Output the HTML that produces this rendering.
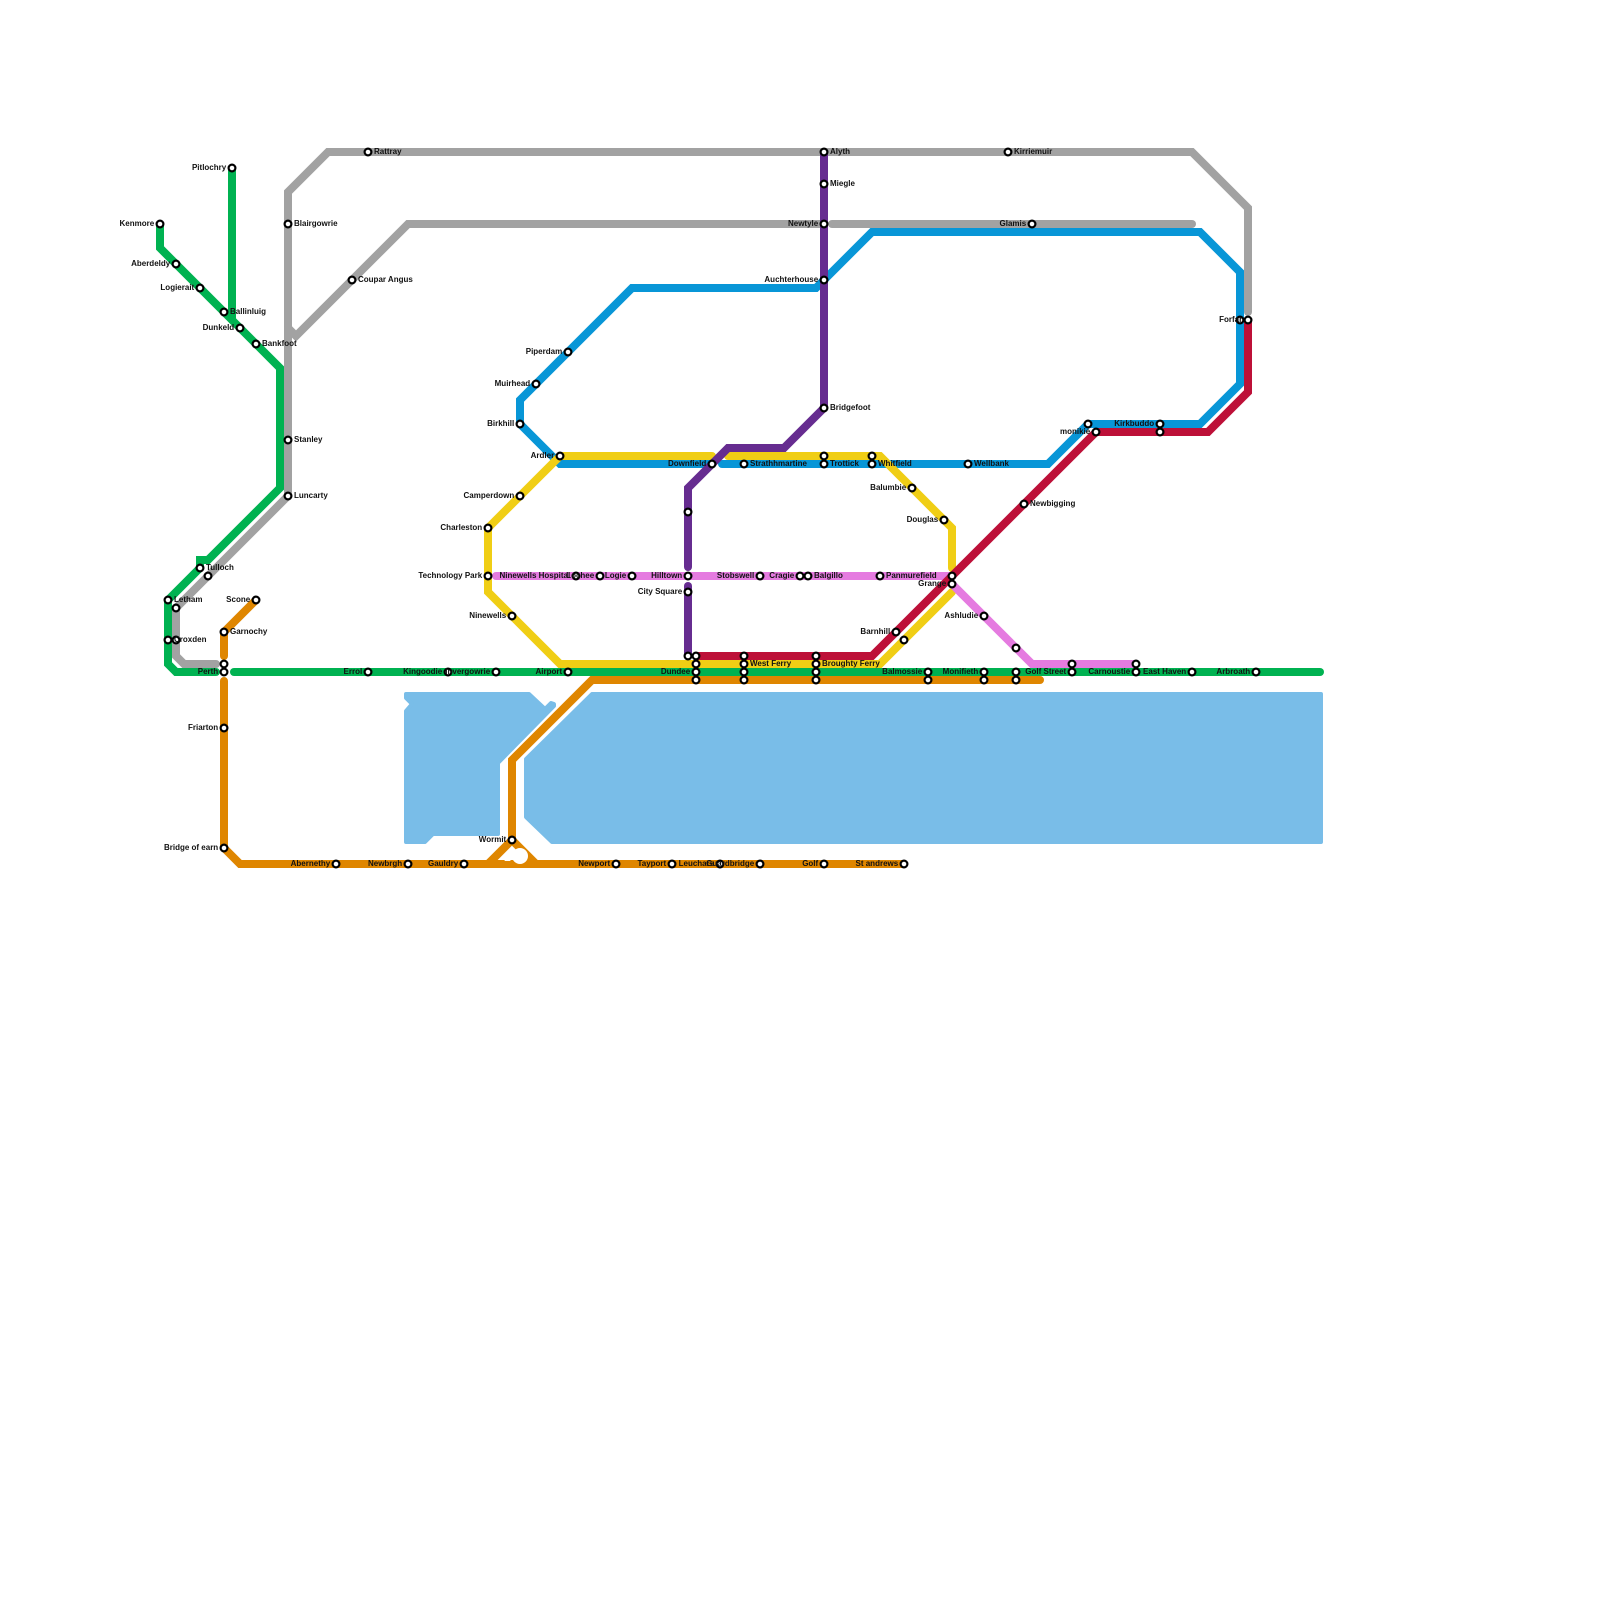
<!DOCTYPE html>
<html><head><meta charset="utf-8"><title>Tayside Metro</title>
<style>html,body{margin:0;padding:0;background:#fff}svg{display:block}
text{font-family:"Liberation Sans",sans-serif;font-size:8px;font-weight:bold;fill:#111}
.e{text-anchor:end}.l{fill:none;stroke-width:8;stroke-linecap:round;stroke-linejoin:miter;stroke-miterlimit:10}</style></head>
<body>
<svg xmlns="http://www.w3.org/2000/svg" width="1600" height="1600" viewBox="0 0 1600 1600">
<rect width="1600" height="1600" fill="#fff"/>
<g fill="#79bde8" stroke="#79bde8" stroke-width="4" stroke-linejoin="round">
<path d="M406 694H529L545 709L551 703L554 704L554 706L498 763V834H433L425 842H406V711L412 704L406 698Z"/>
<path d="M592 694H1321V842H552L526 817V759Z"/>
</g>
<g class="l">
<path stroke="#a2a2a2" d="M288 328V192L328 152H1192L1248 208V312"/>
<path stroke="#a2a2a2" d="M288 328V496L176 608V656L184 664H216"/>
<path stroke="#a2a2a2" d="M288 328L296 336L408 224H820"/>
<path stroke="#a2a2a2" d="M832 224H1192"/>
<path stroke="#00b251" d="M160 224V248L280 368V488L208 560H200V568L168 600V664L176 672H216"/>
<path stroke="#00b251" d="M232 168V320"/>
<path stroke="#00b251" d="M234 672H1320"/>
<path stroke="#df8600" d="M256 600L224 632V656"/>
<path stroke="#df8600" d="M224 681V848L240 864H904"/>
<path stroke="#df8600" d="M1040 680H592L512 760V840L488 864"/>
<path stroke="#df8600" d="M512 840L536 864"/>
<path stroke="#0896d7" d="M712 464H560L520 424V400L632 288H816L872 232H1200L1240 272V384L1200 424H1088L1048 464H722"/>
<path stroke="#f0ce15" d="M712 456H560L488 528V592L560 664H880L952 592"/>
<path stroke="#f0ce15" d="M728 456H880L952 528V568"/>
<path stroke="#e57be0" d="M496 576H950"/>
<path stroke="#e57be0" d="M952 584L1032 664H1136"/>
<path stroke="#662c90" d="M824 152V408L784 448H728L688 488V567"/>
<path stroke="#662c90" d="M688 586V656"/>
<path stroke="#bd1038" d="M696 656H872L1096 432H1208L1248 392V320"/>
</g>
<path fill="#fff" d="M502 857L512 848L518 852L510 861H505Z"/>
<circle cx="520" cy="856" r="8" fill="#fff"/>
<g fill="#fff" stroke="#000" stroke-width="2.2">
<circle cx="232" cy="168" r="3.4"/><circle cx="160" cy="224" r="3.4"/><circle cx="176" cy="264" r="3.4"/><circle cx="200" cy="288" r="3.4"/><circle cx="224" cy="312" r="3.4"/><circle cx="240" cy="328" r="3.4"/><circle cx="256" cy="344" r="3.4"/>
<circle cx="368" cy="152" r="3.4"/><circle cx="288" cy="224" r="3.4"/><circle cx="352" cy="280" r="3.4"/><circle cx="288" cy="440" r="3.4"/><circle cx="288" cy="496" r="3.4"/>
<circle cx="200" cy="568" r="3.4"/><circle cx="208" cy="576" r="3.4"/><circle cx="168" cy="600" r="3.4"/><circle cx="176" cy="608" r="3.4"/><circle cx="168" cy="640" r="3.4"/><circle cx="176" cy="640" r="3.4"/>
<circle cx="256" cy="600" r="3.4"/><circle cx="224" cy="632" r="3.4"/><circle cx="224" cy="664" r="3.4"/><circle cx="224" cy="672" r="3.4"/><circle cx="224" cy="728" r="3.4"/><circle cx="224" cy="848" r="3.4"/>
<circle cx="336" cy="864" r="3.4"/><circle cx="408" cy="864" r="3.4"/><circle cx="464" cy="864" r="3.4"/><circle cx="512" cy="840" r="3.4"/><circle cx="616" cy="864" r="3.4"/><circle cx="672" cy="864" r="3.4"/><circle cx="720" cy="864" r="3.4"/><circle cx="760" cy="864" r="3.4"/><circle cx="824" cy="864" r="3.4"/><circle cx="904" cy="864" r="3.4"/>
<circle cx="368" cy="672" r="3.4"/><circle cx="448" cy="672" r="3.4"/><circle cx="496" cy="672" r="3.4"/><circle cx="568" cy="672" r="3.4"/>
<circle cx="488" cy="528" r="3.4"/><circle cx="488" cy="576" r="3.4"/><circle cx="512" cy="616" r="3.4"/><circle cx="520" cy="496" r="3.4"/><circle cx="560" cy="456" r="3.4"/><circle cx="520" cy="424" r="3.4"/><circle cx="536" cy="384" r="3.4"/><circle cx="568" cy="352" r="3.4"/>
<circle cx="576" cy="576" r="3.4"/><circle cx="600" cy="576" r="3.4"/><circle cx="632" cy="576" r="3.4"/><circle cx="688" cy="512" r="3.4"/><circle cx="688" cy="576" r="3.4"/><circle cx="688" cy="592" r="3.4"/><circle cx="688" cy="656" r="3.4"/>
<circle cx="760" cy="576" r="3.4"/><circle cx="800" cy="576" r="3.4"/><circle cx="808" cy="576" r="3.4"/><circle cx="880" cy="576" r="3.4"/>
<circle cx="696" cy="656" r="3.4"/><circle cx="696" cy="664" r="3.4"/><circle cx="696" cy="672" r="3.4"/><circle cx="696" cy="680" r="3.4"/>
<circle cx="744" cy="656" r="3.4"/><circle cx="744" cy="664" r="3.4"/><circle cx="744" cy="672" r="3.4"/><circle cx="744" cy="680" r="3.4"/>
<circle cx="816" cy="656" r="3.4"/><circle cx="816" cy="664" r="3.4"/><circle cx="816" cy="672" r="3.4"/><circle cx="816" cy="680" r="3.4"/>
<circle cx="928" cy="672" r="3.4"/><circle cx="928" cy="680" r="3.4"/><circle cx="984" cy="672" r="3.4"/><circle cx="984" cy="680" r="3.4"/><circle cx="1016" cy="672" r="3.4"/><circle cx="1016" cy="680" r="3.4"/>
<circle cx="1072" cy="664" r="3.4"/><circle cx="1072" cy="672" r="3.4"/><circle cx="1136" cy="664" r="3.4"/><circle cx="1136" cy="672" r="3.4"/><circle cx="1192" cy="672" r="3.4"/><circle cx="1256" cy="672" r="3.4"/>
<circle cx="824" cy="152" r="3.4"/><circle cx="824" cy="184" r="3.4"/><circle cx="824" cy="224" r="3.4"/><circle cx="824" cy="280" r="3.4"/><circle cx="824" cy="408" r="3.4"/>
<circle cx="712" cy="464" r="3.4"/><circle cx="744" cy="464" r="3.4"/><circle cx="824" cy="456" r="3.4"/><circle cx="824" cy="464" r="3.4"/><circle cx="872" cy="456" r="3.4"/><circle cx="872" cy="464" r="3.4"/><circle cx="968" cy="464" r="3.4"/>
<circle cx="912" cy="488" r="3.4"/><circle cx="944" cy="520" r="3.4"/><circle cx="952" cy="576" r="3.4"/><circle cx="952" cy="584" r="3.4"/><circle cx="896" cy="632" r="3.4"/><circle cx="904" cy="640" r="3.4"/><circle cx="984" cy="616" r="3.4"/><circle cx="1016" cy="648" r="3.4"/>
<circle cx="1008" cy="152" r="3.4"/><circle cx="1032" cy="224" r="3.4"/><circle cx="1024" cy="504" r="3.4"/><circle cx="1088" cy="424" r="3.4"/><circle cx="1096" cy="432" r="3.4"/><circle cx="1160" cy="424" r="3.4"/><circle cx="1160" cy="432" r="3.4"/><circle cx="1240" cy="320" r="3.4"/><circle cx="1248" cy="320" r="3.4"/>
</g>
<g class="e" transform="translate(0.7,-0.4)">
<text x="225.5" y="170.5">Pitlochry</text><text x="153.5" y="226.5">Kenmore</text><text x="169.5" y="266.5">Aberdeldy</text><text x="193.5" y="290.5">Logierait</text><text x="233.5" y="330.5">Dunkeld</text>
<text x="249.5" y="602.5">Scone</text><text x="217.5" y="674.5">Perth</text><text x="217.5" y="730.5">Friarton</text><text x="217.5" y="850.5">Bridge of earn</text>
<text x="329.5" y="866.5">Abernethy</text><text x="401.5" y="866.5">Newbrgh</text><text x="457.5" y="866.5">Gauldry</text><text x="505.5" y="842.5">Wormit</text><text x="609.5" y="866.5">Newport</text><text x="665.5" y="866.5">Tayport</text><text x="713.5" y="866.5">Leuchars</text><text x="753.5" y="866.5">Guardbridge</text><text x="817.5" y="866.5">Golf</text><text x="897.5" y="866.5">St andrews</text>
<text x="361.5" y="674.5">Errol</text><text x="441.5" y="674.5">Kingoodie</text><text x="489.5" y="674.5">Invergowrie</text><text x="561.5" y="674.5">Airport</text>
<text x="481.5" y="530.5">Charleston</text><text x="481.5" y="578.5">Technology Park</text><text x="505.5" y="618.5">Ninewells</text><text x="513.5" y="498.5">Camperdown</text><text x="553.5" y="458.5">Ardler</text><text x="513.5" y="426.5">Birkhill</text><text x="529.5" y="386.5">Muirhead</text><text x="561.5" y="354.5">Piperdam</text>
<text x="569.5" y="578.5">Ninewells Hospital</text><text x="593.5" y="578.5">Lochee</text><text x="625.5" y="578.5">Logie</text><text x="681.5" y="578.5">Hilltown</text><text x="681.5" y="594.5">City Square</text><text x="753.5" y="578.5">Stobswell</text><text x="793.5" y="578.5">Cragie</text>
<text x="689.5" y="674.5">Dundee</text><text x="705.5" y="466.5">Downfield</text><text x="817.5" y="226.5">Newtyle</text><text x="817.5" y="282.5">Auchterhouse</text>
<text x="905.5" y="490.5">Balumbie</text><text x="937.5" y="522.5">Douglas</text><text x="889.5" y="634.5">Barnhill</text><text x="945.5" y="586.5">Grange</text><text x="977.5" y="618.5">Ashludie</text>
<text x="921.5" y="674.5">Balmossie</text><text x="977.5" y="674.5">Monifieth</text><text x="1065.5" y="674.5">Golf Street</text><text x="1129.5" y="674.5">Carnoustie</text><text x="1185.5" y="674.5">East Haven</text><text x="1249.5" y="674.5">Arbroath</text>
<text x="1025.5" y="226.5">Glamis</text><text x="1089.5" y="434.5">monikie</text><text x="1153.5" y="426.5">Kirkbuddo</text><text x="1241.5" y="322.5">Forfar</text>
</g>
<g transform="translate(-0.5,-0.4)">
<text x="230.5" y="314.5">Ballinluig</text><text x="262.5" y="346.5">Bankfoot</text><text x="374.5" y="154.5">Rattray</text><text x="294.5" y="226.5">Blairgowrie</text><text x="358.5" y="282.5">Coupar Angus</text><text x="294.5" y="442.5">Stanley</text><text x="294.5" y="498.5">Luncarty</text>
<text x="206.5" y="570.5">Tulloch</text><text x="174.5" y="602.5">Letham</text><text x="174.5" y="642.5">Croxden</text><text x="230.5" y="634.5">Garnochy</text>
<text x="830.5" y="154.5">Alyth</text><text x="830.5" y="186.5">Miegle</text><text x="830.5" y="410.5">Bridgefoot</text>
<text x="750.5" y="466.5">Strathhmartine</text><text x="830.5" y="466.5">Trottick</text><text x="878.5" y="466.5">Whitfield</text><text x="974.5" y="466.5">Wellbank</text>
<text x="814.5" y="578.5">Balgillo</text><text x="886.5" y="578.5">Panmurefield</text><text x="750.5" y="666.5">West Ferry</text><text x="822.5" y="666.5">Broughty Ferry</text>
<text x="1014.5" y="154.5">Kirriemuir</text><text x="1030.5" y="506.5">Newbigging</text>
</g>
</svg>
</body></html>
